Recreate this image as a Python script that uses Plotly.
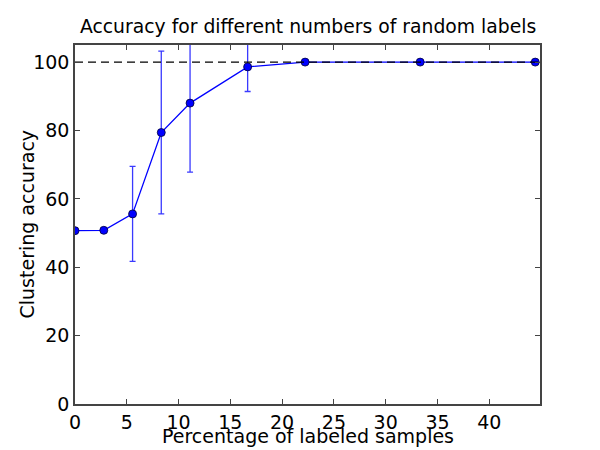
import plotly.graph_objs as go

# percentage of labeled samples vs clustering accuracy
pct_labeled = [0, 2.78, 5.56, 8.33, 11.11, 16.67, 22.22, 33.33, 44.44]
accuracy = [50.7, 50.8, 55.6, 79.4, 88.0, 98.6, 100, 100, 100]
accuracy_err = [0, 0, 13.9, 23.8, 20.2, 7.2, 0, 0, 0]
target = [100, 100]
target_x = [0, 44.9]

font = 'DejaVu Sans, sans-serif'

fig = go.Figure()
fig.add_trace(go.Scatter(
  x=pct_labeled, y=accuracy, mode='lines+markers',
  line=dict(color='#0000ff', width=1.3),
  marker=dict(color='#0000ff', size=8, line=dict(color='#000033', width=0.8)),
  error_y=dict(type='data', array=accuracy_err, visible=True,
               color='#3a3aff', thickness=1.3, width=3),
  showlegend=False))
fig.add_trace(go.Scatter(
  x=target_x, y=target, mode='lines',
  line=dict(color='black', width=1.3, dash='8px,5px'),
  showlegend=False))

axis_common = dict(
  showgrid=False, zeroline=False, showline=True, linecolor='#444',
  linewidth=1.5, mirror='ticks', ticks='inside', ticklen=5,
  tickcolor='#444', automargin=False,
  tickfont=dict(family=font, size=19, color='black'))

# page body has an 8px margin, so the figure is a bit smaller than the window
fig.update_layout(
  width=592, height=442,
  paper_bgcolor='white', plot_bgcolor='white',
  margin=dict(l=67, r=60, t=37, b=46, autoexpand=False),
  title=dict(text='Accuracy for different numbers of random labels',
             x=0.507, xanchor='center', y=0.959, yanchor='middle',
             font=dict(family=font, size=18.8, color='black'), automargin=False),
  xaxis=dict(range=[0, 44.9], tickvals=[0, 5, 10, 15, 20, 25, 30, 35, 40],
             **axis_common),
  yaxis=dict(range=[0, 105], tickvals=[0, 20, 40, 60, 80, 100],
             **axis_common),
)

# axis titles as annotations so they sit where the reference has them
fig.add_annotation(text='Percentage of labeled samples', xref='paper', yref='paper',
                   x=0.5, y=0, xanchor='center', yanchor='middle', yshift=-32,
                   showarrow=False, font=dict(family=font, size=19, color='black'))
fig.add_annotation(text='Clustering accuracy', xref='paper', yref='paper',
                   x=0, y=0.5, xanchor='center', yanchor='middle', xshift=-49,
                   textangle=-90, showarrow=False,
                   font=dict(family=font, size=19, color='black'))

fig.write_html("out.html")
